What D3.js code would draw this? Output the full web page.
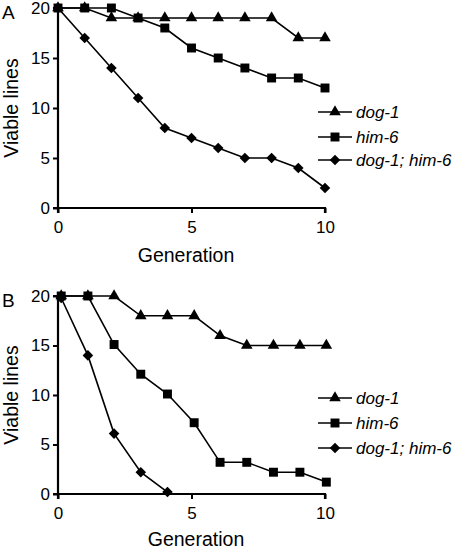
<!DOCTYPE html>
<html><head><meta charset="utf-8">
<script src="https://cdn.jsdelivr.net/npm/d3@7"></script>
<style>body{margin:0;background:#fff}svg{display:block}text{font-family:"Liberation Sans",Arial,sans-serif;fill:#000}</style>
</head><body>
<script>
const seriesNames = ["dog-1", "him-6", "dog-1; him-6"];
const genA = [0,1,2,3,4,5,6,7,8,9,10];
const dog1A = [20,20,19,19,19,19,19,19,19,17,17];
const him6A = [20,20,20,19,18,16,15,14,13,13,12];
const doubleA = [20,17,14,11,8,7,6,5,5,4,2];
const genB = [0.12,1.12,2.1,3.1,4.1,5.1,6.07,7.07,8.07,9.06,10.05];
const dog1B = [20,20,20,18,18,18,16,15,15,15,15];
const him6B = [20,20,15.1,12.1,10.1,7.2,3.2,3.2,2.2,2.2,1.2];
const doubleB = [19.8,14,6.1,2.2,0.2];
const xTicks = [0,5,10];
const yTicks = [0,5,10,15,20];

const svg = d3.select("body").append("svg").attr("width",456).attr("height",549);

const symTri = d3.symbol().type(d3.symbolTriangle).size(58)();
const symSq = d3.symbol().type(d3.symbolSquare).size(80)();
const symDia = d3.symbol().type(d3.symbolSquare).size(56)();
const markers = [{p:symTri,rot:0},{p:symSq,rot:0},{p:symDia,rot:45}];

function panel(label, top, bottom, gen, series, legendY, titleX, titleY){
  const x = d3.scaleLinear().domain([0,10]).range([58,325]);
  const y = d3.scaleLinear().domain([0,20]).range([bottom, top]);
  const g = svg.append("g");
  const xa = g.append("g").attr("transform",`translate(0,${bottom})`)
    .call(d3.axisBottom(x).tickValues(xTicks).tickSize(5).tickPadding(7));
  const ya = g.append("g").attr("transform",`translate(58,0)`)
    .call(d3.axisLeft(y).tickValues(yTicks).tickSize(5).tickPadding(3));
  [xa,ya].forEach(a=>{
    a.select(".domain").attr("stroke","#000").attr("stroke-width",2.2);
    a.selectAll(".tick line").attr("stroke","#000").attr("stroke-width",2);
    a.selectAll("text").attr("font-size",17).attr("fill","#000").style("font-family","'Liberation Sans',Arial,sans-serif");
  });
  xa.select(".domain").attr("d",`M${x(0)},5V0H${x(10)}V5`);
  ya.select(".domain").attr("d",`M-5,${y(20)}H0V${y(0)}H-5`);
  xa.selectAll("text").attr("dy","0.75em");
  const line = d3.line().x((d,i)=>x(gen[i])).y(d=>y(d));
  series.forEach((vals,si)=>{
    g.append("path").datum(vals).attr("d",line).attr("fill","none").attr("stroke","#000").attr("stroke-width",1.6);
    g.selectAll(null).data(vals).enter().append("path")
      .attr("d",markers[si].p)
      .attr("transform",(d,i)=>`translate(${x(gen[i])},${y(d)}) rotate(${markers[si].rot})`)
      .attr("fill","#000");
  });
  seriesNames.forEach((nm,si)=>{
    const ly = legendY[si];
    g.append("line").attr("x1",318).attr("x2",352).attr("y1",ly).attr("y2",ly).attr("stroke","#000").attr("stroke-width",1.6);
    g.append("path").attr("d",markers[si].p).attr("transform",`translate(335,${ly}) rotate(${markers[si].rot})`).attr("fill","#000");
    g.append("text").attr("x",356).attr("y",ly+6).attr("font-size",17).attr("font-style","italic").text(nm);
  });
  g.append("text").attr("x",titleX).attr("y",titleY).attr("text-anchor","middle").attr("font-size",19.5).text("Generation");
  g.append("text").attr("transform",`translate(18,${(top+bottom)/2}) rotate(-90)`).attr("text-anchor","middle").attr("font-size",19.5).text("Viable lines");
  g.append("text").attr("x",2).attr("y",top+11).attr("font-size",19).text(label);
}

panel("A", 8, 208, genA, [dog1A, him6A, doubleA], [112,137,160], 186, 262);
panel("B", 296, 494, genB, [dog1B, him6B, doubleB], [398,423,448], 196, 546);
</script>
</body></html>
